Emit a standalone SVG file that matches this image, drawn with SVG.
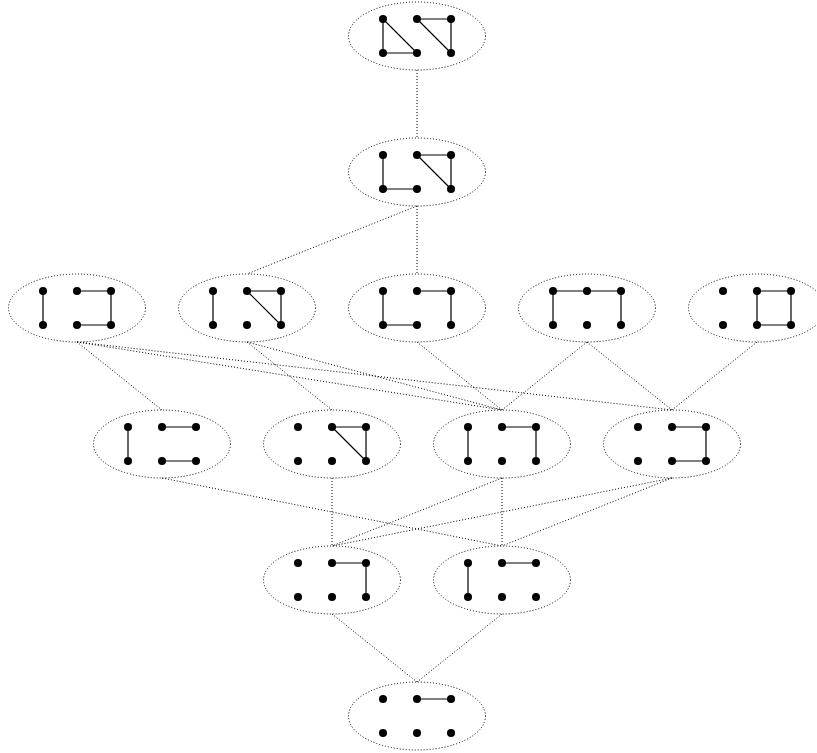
<svg xmlns="http://www.w3.org/2000/svg" xmlns:xlink="http://www.w3.org/1999/xlink" width="817" height="753" viewBox="0 0 817 753">
<style>
.bg{fill:#fff}
.outline{fill:none;stroke:#000;stroke-width:1;stroke-dasharray:1 2}
.conn line{stroke:#000;stroke-width:1;stroke-dasharray:1 2}
.e{fill:none;stroke:#000;stroke-width:1.2}
.dot{fill:#000}
</style>
<defs>
<g id="dots">
<circle class="dot" cx="-34" cy="-17" r="4"/>
<circle class="dot" cx="0" cy="-17" r="4"/>
<circle class="dot" cx="34" cy="-17" r="4"/>
<circle class="dot" cx="-34" cy="17" r="4"/>
<circle class="dot" cx="0" cy="17" r="4"/>
<circle class="dot" cx="34" cy="17" r="4"/>
</g>
<ellipse id="oval" class="outline" cx="0" cy="0" rx="68.5" ry="34"/>
</defs>
<rect class="bg" x="0" y="0" width="817" height="753"/>
<g id="connectors" class="conn">
<line x1="417" y1="70" x2="417" y2="138"/>
<line x1="417" y1="206" x2="247" y2="274"/>
<line x1="417" y1="206" x2="417" y2="274"/>
<line x1="77" y1="342" x2="162" y2="410"/>
<line x1="77" y1="342" x2="502" y2="410"/>
<line x1="77" y1="342" x2="672" y2="410"/>
<line x1="247" y1="342" x2="332" y2="410"/>
<line x1="247" y1="342" x2="502" y2="410"/>
<line x1="417" y1="342" x2="502" y2="410"/>
<line x1="587" y1="342" x2="502" y2="410"/>
<line x1="587" y1="342" x2="672" y2="410"/>
<line x1="757" y1="342" x2="672" y2="410"/>
<line x1="162" y1="478" x2="502" y2="546"/>
<line x1="332" y1="478" x2="332" y2="546"/>
<line x1="502" y1="478" x2="332" y2="546"/>
<line x1="502" y1="478" x2="502" y2="546"/>
<line x1="672" y1="478" x2="332" y2="546"/>
<line x1="672" y1="478" x2="502" y2="546"/>
<line x1="332" y1="614" x2="417" y2="682"/>
<line x1="502" y1="614" x2="417" y2="682"/>
</g>
<g id="n1" transform="translate(417,36)">
<use xlink:href="#oval"/>
<path class="e" d="M-34,-17V17H0M-34,-17L0,17M0,-17H34V17M0,-17L34,17"/>
<use xlink:href="#dots"/>
</g>
<g id="n2" transform="translate(417,172)">
<use xlink:href="#oval"/>
<path class="e" d="M-34,-17V17H0M0,-17H34V17M0,-17L34,17"/>
<use xlink:href="#dots"/>
</g>
<g id="n3a" transform="translate(77,308)">
<use xlink:href="#oval"/>
<path class="e" d="M-34,-17V17M0,-17H34V17H0"/>
<use xlink:href="#dots"/>
</g>
<g id="n3b" transform="translate(247,308)">
<use xlink:href="#oval"/>
<path class="e" d="M-34,-17V17M0,-17H34V17M0,-17L34,17"/>
<use xlink:href="#dots"/>
</g>
<g id="n3c" transform="translate(417,308)">
<use xlink:href="#oval"/>
<path class="e" d="M-34,-17V17H0M0,-17H34V17"/>
<use xlink:href="#dots"/>
</g>
<g id="n3d" transform="translate(587,308)">
<use xlink:href="#oval"/>
<path class="e" d="M-34,17V-17H34V17"/>
<use xlink:href="#dots"/>
</g>
<g id="n3e" transform="translate(757,308)">
<use xlink:href="#oval"/>
<path class="e" d="M0,-17H34V17H0Z"/>
<use xlink:href="#dots"/>
</g>
<g id="n4a" transform="translate(162,444)">
<use xlink:href="#oval"/>
<path class="e" d="M-34,-17V17M0,-17H34M0,17H34"/>
<use xlink:href="#dots"/>
</g>
<g id="n4b" transform="translate(332,444)">
<use xlink:href="#oval"/>
<path class="e" d="M0,-17H34V17M0,-17L34,17"/>
<use xlink:href="#dots"/>
</g>
<g id="n4c" transform="translate(502,444)">
<use xlink:href="#oval"/>
<path class="e" d="M-34,-17V17M0,-17H34V17"/>
<use xlink:href="#dots"/>
</g>
<g id="n4d" transform="translate(672,444)">
<use xlink:href="#oval"/>
<path class="e" d="M0,-17H34V17H0"/>
<use xlink:href="#dots"/>
</g>
<g id="n5a" transform="translate(332,580)">
<use xlink:href="#oval"/>
<path class="e" d="M0,-17H34V17"/>
<use xlink:href="#dots"/>
</g>
<g id="n5b" transform="translate(502,580)">
<use xlink:href="#oval"/>
<path class="e" d="M-34,-17V17M0,-17H34"/>
<use xlink:href="#dots"/>
</g>
<g id="n6" transform="translate(417,716)">
<use xlink:href="#oval"/>
<path class="e" d="M0,-17H34"/>
<use xlink:href="#dots"/>
</g>
</svg>
